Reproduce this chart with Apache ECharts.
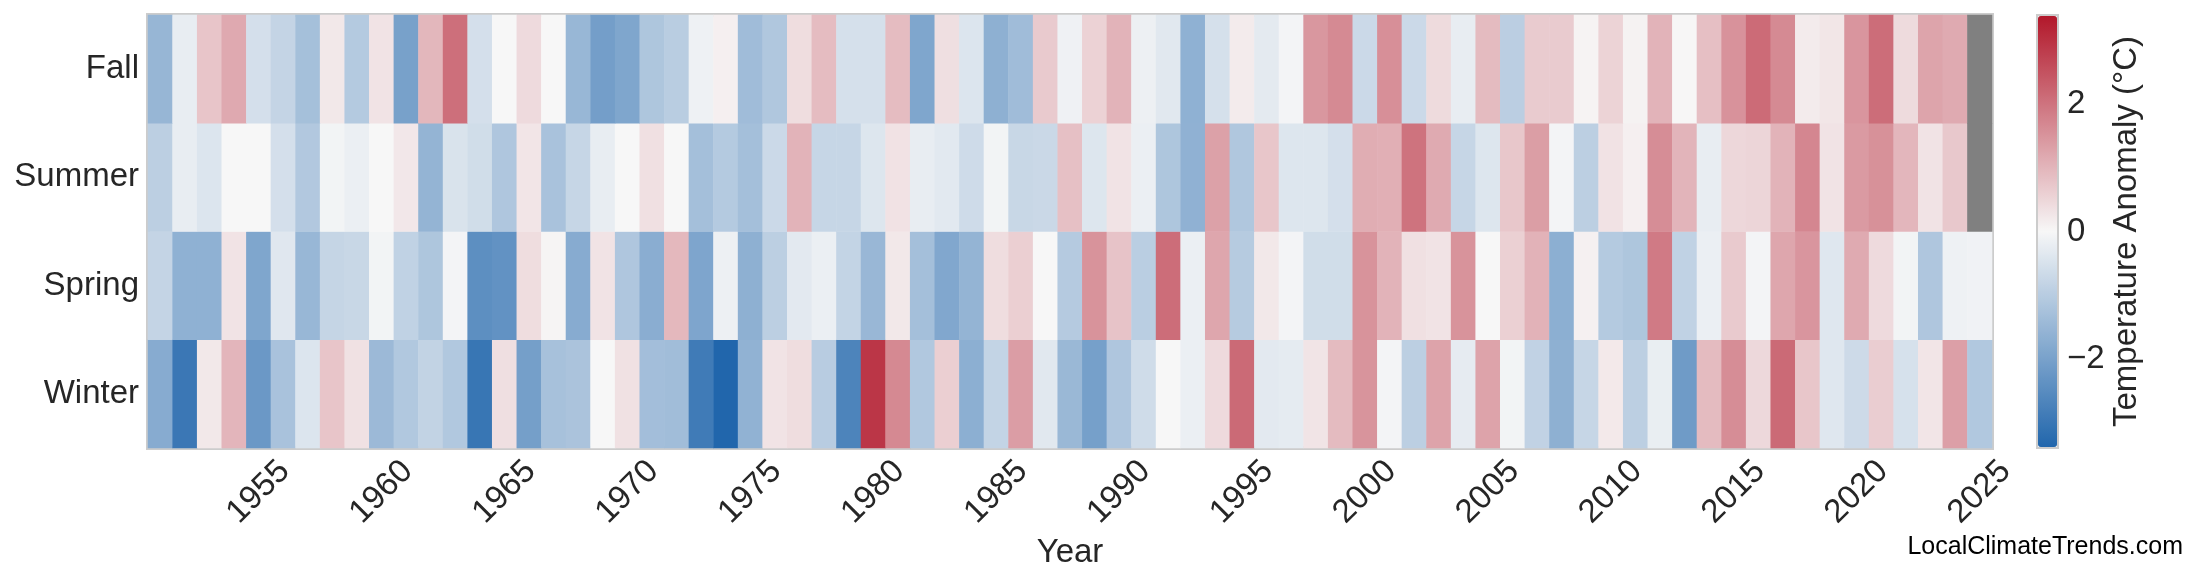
<!DOCTYPE html>
<html>
<head>
<meta charset="utf-8">
<script src="https://cdn.jsdelivr.net/npm/echarts@6/dist/echarts.min.js"></script>
<style>
html,body{margin:0;padding:0;background:#fff;}
#chart{width:2200px;height:585px;}
</style>
</head>
<body>
<div id="chart"></div>
<script>
// Years 1951..2025
const years = [];
for (let y = 1951; y <= 2025; y++) years.push(String(y));

const seasons = ['Winter', 'Spring', 'Summer', 'Fall'];

const fall = [-1.53,-0.24,0.76,1.19,-0.56,-0.81,-1.3,0.23,-1.06,0.3,-2.02,0.98,2.07,-0.56,0.0,0.44,0.0,-1.51,-2.08,-1.91,-1.16,-0.99,-0.14,0.12,-1.38,-1.13,0.4,0.9,-0.54,-0.54,0.9,-1.91,0.37,-0.43,-1.67,-1.38,0.69,-0.13,0.56,1.04,-0.16,-0.35,-1.65,-0.54,0.18,-0.3,-0.06,1.46,1.66,-0.7,1.59,-0.7,0.43,-0.24,0.92,-0.95,0.67,0.67,0.06,0.55,0.08,1.04,0.02,0.85,1.54,2.13,1.66,0.18,0.26,1.49,2.1,0.43,1.27,1.17,null];

const summer = [-0.94,-0.24,-0.43,0.0,0.0,-0.56,-1.1,-0.08,-0.19,0.0,0.24,-1.57,-0.48,-0.62,-1.14,0.27,-1.24,-0.78,-0.24,0.0,0.35,0.0,-1.32,-1.06,-1.32,-0.7,1.04,-0.78,-0.78,-0.41,0.32,-0.24,-0.33,-0.65,-0.08,-0.75,-0.72,0.84,-0.41,0.3,-0.19,-1.16,-1.64,1.31,-1.13,0.75,-0.41,-0.41,-0.56,1.13,1.1,2.01,1.17,-0.78,-0.41,0.73,1.36,-0.06,-0.94,0.32,0.12,1.62,1.02,-0.24,0.49,0.52,1.04,1.72,0.3,1.42,1.56,0.99,0.3,0.72,null];

const spring = [-0.81,-1.65,-1.65,0.3,-1.91,-0.37,-1.51,-0.8,-0.75,-0.08,-0.87,-1.16,-0.06,-2.45,-2.37,0.4,0.05,-1.78,0.3,-1.14,-1.73,0.96,-1.92,-0.16,-1.67,-0.94,-0.32,-0.19,-0.83,-1.49,0.23,-1.32,-1.87,-1.57,0.4,0.61,0.0,-1.05,1.53,0.79,-0.97,2.1,-0.19,1.24,-1.03,0.23,-0.06,-0.62,-0.62,1.53,1.04,0.35,0.3,1.53,0.0,0.6,1.05,-1.7,0.1,-1.06,-1.16,1.9,-0.87,-0.19,0.69,-0.06,1.24,1.49,-0.38,1.17,0.44,-0.08,-1.14,-0.14,-0.11];

const winter = [-1.78,-2.99,0.23,1.0,-2.22,-1.24,-0.43,0.76,0.34,-1.45,-1.11,-0.84,-1.11,-3.03,0.37,-2.07,-1.27,-1.21,0.0,0.34,-1.33,-1.37,-2.91,-3.4,-1.62,0.3,0.4,-1.0,-2.7,2.94,1.68,-1.11,0.61,-1.7,-0.83,1.37,-0.35,-1.48,-2.05,-1.14,-0.64,0.0,-0.19,0.44,2.15,-0.32,-0.29,0.29,0.92,1.51,-0.06,-0.94,1.28,-0.27,1.28,-0.08,-0.86,-1.67,-0.78,0.21,-0.94,-0.22,-2.16,0.92,1.62,0.47,2.15,0.75,-0.38,-0.67,0.64,-0.52,0.27,1.34,-1.11];

const colorbarTicks = [-2, 0, 2];
const vLimit = 3.4;

const rows = [winter, spring, summer, fall];
const cells = [];
const missing = [];
rows.forEach((arr, r) => {
  arr.forEach((v, c) => {
    if (v === null) missing.push([c, r, 0]);
    else cells.push([c, r, v]);
  });
});

const FONT = "'Liberation Sans', Arial, sans-serif";
const TXT = '#262626';

const chart = echarts.init(document.getElementById('chart'), null, {renderer: 'canvas'});
chart.setOption({
  animation: false,
  backgroundColor: '#ffffff',
  textStyle: {fontFamily: FONT},
  grid: [
    {left: 148, top: 15, width: 1844, height: 433, show: true, borderColor: '#cccccc', borderWidth: 4, backgroundColor: 'transparent'},
    {left: 2037, top: 15, width: 21, height: 433, show: true, borderColor: '#cccccc', borderWidth: 2, backgroundColor: 'transparent'}
  ],
  xAxis: [
    {
      type: 'category', gridIndex: 0, data: years,
      axisLine: {show: false}, axisTick: {show: false}, splitLine: {show: false},
      axisLabel: {
        interval: (idx, val) => Number(val) % 5 === 0,
        rotate: 45, align: 'center', verticalAlign: 'middle', margin: 44,
        fontSize: 33, color: TXT, fontFamily: FONT
      },
      name: 'Year', nameLocation: 'middle', nameGap: 84,
      nameTextStyle: {fontSize: 33, color: TXT, fontFamily: FONT}
    },
    {type: 'value', gridIndex: 1, show: false, min: 0, max: 1}
  ],
  yAxis: [
    {
      type: 'category', gridIndex: 0, data: seasons,
      axisLine: {show: false}, axisTick: {show: false}, splitLine: {show: false},
      axisLabel: {fontSize: 33, color: TXT, fontFamily: FONT, margin: 9}
    },
    {
      type: 'value', gridIndex: 1, position: 'right', min: -vLimit, max: vLimit,
      axisLine: {show: false}, axisTick: {show: false}, splitLine: {show: false},
      axisLabel: {
        customValues: colorbarTicks, margin: 9, fontSize: 33, color: TXT, fontFamily: FONT,
        padding: [6, 0, 0, 0],
        formatter: v => String(v).replace('-', '\u2212')
      },
      name: 'Temperature Anomaly (°C)', nameLocation: 'middle', nameRotate: 90, nameGap: 52,
      nameTextStyle: {fontSize: 33, color: TXT, fontFamily: FONT}
    }
  ],
  visualMap: {
    type: 'continuous', seriesIndex: 0, min: -vLimit, max: vLimit,
    orient: 'vertical', left: 2038, top: 16, itemWidth: 19, itemHeight: 431,
    padding: 0, calculable: false, text: null, showLabel: false, hoverLink: false,
    inRange: {color: ['#2166ac', '#f7f7f7', '#b2182b']}
  },
  graphic: [
    {type: 'text', right: 17, top: 535, style: {text: 'LocalClimateTrends.com', font: "25px 'Liberation Sans', Arial, sans-serif", fill: '#000000'}}
  ],
  series: [
    {type: 'heatmap', xAxisIndex: 0, yAxisIndex: 0, data: cells, itemStyle: {borderWidth: 0}, emphasis: {disabled: true}},
    {type: 'heatmap', xAxisIndex: 0, yAxisIndex: 0, data: missing, itemStyle: {color: '#808080', borderWidth: 0}, emphasis: {disabled: true}}
  ]
});
</script>
</body>
</html>
